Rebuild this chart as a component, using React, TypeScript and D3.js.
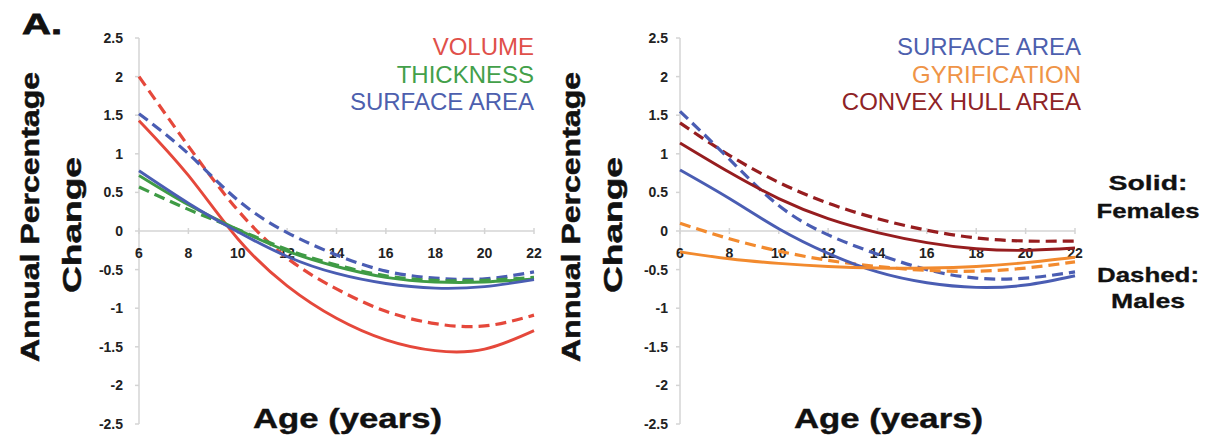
import React from "react";
import * as d3 from "d3";

// ---- data ----
const ages = [6, 8, 10, 12, 14, 16, 18, 20, 22];
const xTicks = [6, 8, 10, 12, 14, 16, 18, 20, 22];
const yTicks = [2.5, 2, 1.5, 1, 0.5, 0, -0.5, -1, -1.5, -2, -2.5];

// Left panel
const volumeF = [1.43, 0.72, -0.1, -0.71, -1.13, -1.41, -1.55, -1.53, -1.29];
const volumeM = [2.0, 1.1, 0.27, -0.35, -0.75, -1.04, -1.2, -1.23, -1.09];
const thickF = [0.72, 0.34, 0.02, -0.26, -0.46, -0.6, -0.66, -0.66, -0.62];
const thickM = [0.57, 0.28, 0.02, -0.24, -0.44, -0.58, -0.64, -0.64, -0.6];
const areaF = [0.78, 0.36, -0.01, -0.33, -0.55, -0.68, -0.74, -0.72, -0.63];
const areaM = [1.52, 1.0, 0.4, -0.02, -0.31, -0.52, -0.61, -0.62, -0.53];

// Right panel
const areaF2 = [0.79, 0.42, 0.03, -0.29, -0.53, -0.67, -0.73, -0.7, -0.58];
const areaM2 = [1.55, 0.93, 0.33, -0.05, -0.3, -0.5, -0.61, -0.61, -0.53];
const hullF = [1.14, 0.76, 0.42, 0.16, -0.02, -0.15, -0.23, -0.25, -0.22];
const hullM = [1.4, 0.98, 0.63, 0.36, 0.16, 0.01, -0.09, -0.13, -0.13];
const gyrF = [-0.27, -0.36, -0.42, -0.46, -0.48, -0.48, -0.46, -0.41, -0.34];
const gyrM = [0.1, -0.1, -0.26, -0.38, -0.46, -0.51, -0.52, -0.48, -0.4];

const leftLegend = ["VOLUME", "THICKNESS", "SURFACE AREA"];
const rightLegend = ["SURFACE AREA", "GYRIFICATION", "CONVEX HULL AREA"];

const C = {
  red: "#e5483b",
  green: "#3f9b45",
  blue: "#4a5db3",
  orange: "#f28a2e",
  dred: "#961d1f",
};
const LEG = {
  red: "#e0504a",
  green: "#43a04a",
  blue: "#4d5fae",
  orange: "#ef9447",
  dred: "#8e2326",
};

const FONT = "'Liberation Sans', Arial, Helvetica, sans-serif";

type Series = { values: number[]; color: string; dashed: boolean };

function Panel({
  x0,
  x1,
  labelRight,
  series,
  legend,
  legendColors,
  legendRight,
  titleOffset,
}: {
  x0: number;
  x1: number;
  labelRight: number;
  series: Series[];
  legend: string[];
  legendColors: string[];
  legendRight: number;
  titleOffset: number;
}) {
  const x = d3.scaleLinear().domain([6, 22]).range([x0, x1]);
  const y = d3.scaleLinear().domain([-2.5, 2.5]).range([424, 38]);
  const line = d3
    .line<number>()
    .x((_, i) => x(ages[i]))
    .y((d) => y(d))
    .curve(d3.curveNatural);
  const axisColor = "#d4d4d4";
  return (
    <g>
      {/* y axis */}
      <line x1={x0} x2={x0} y1={y(2.5)} y2={y(-2.5)} stroke={axisColor} strokeWidth={1.5} />
      {yTicks.map((t) => (
        <g key={"yt" + t}>
          <line x1={x0 - 4} x2={x0} y1={y(t)} y2={y(t)} stroke={axisColor} strokeWidth={1.5} />
          <text
            x={labelRight}
            y={y(t)}
            dy="0.36em"
            textAnchor="end"
            fontFamily={FONT}
            fontWeight="bold"
            fontSize={14}
            fill="#222"
          >
            {String(t)}
          </text>
        </g>
      ))}
      {/* x axis */}
      <line x1={x0} x2={x1} y1={y(0)} y2={y(0)} stroke={axisColor} strokeWidth={1.5} />
      {xTicks.map((t) => (
        <g key={"xt" + t}>
          <line x1={x(t)} x2={x(t)} y1={y(0) - 3} y2={y(0) + 3} stroke={axisColor} strokeWidth={1.5} />
          <text
            x={x(t)}
            y={258}
            textAnchor="middle"
            fontFamily={FONT}
            fontWeight="bold"
            fontSize={14}
            fill="#222"
          >
            {String(t)}
          </text>
        </g>
      ))}
      {/* series */}
      {series.map((s, i) => (
        <path
          key={"s" + i}
          d={line(s.values) || ""}
          fill="none"
          stroke={s.color}
          strokeWidth={s.dashed ? 3.2 : 2.9}
          strokeDasharray={s.dashed ? "11 6" : undefined}
          strokeLinecap="butt"
        />
      ))}
      {/* legend */}
      {legend.map((l, i) => (
        <text
          key={"lg" + i}
          x={legendRight}
          y={55 + i * 27.5}
          textAnchor="end"
          fontFamily={FONT}
          fontSize={24}
          fill={legendColors[i]}
        >
          {l}
        </text>
      ))}
      {/* axis titles */}
      <text
        transform={`translate(${39 + titleOffset},217) rotate(-90)`}
        textAnchor="middle"
        fontFamily={FONT}
        fontWeight="bold"
        fontSize={26}
        textLength={290}
        lengthAdjust="spacingAndGlyphs"
        fill="#111"
        stroke="#111"
        strokeWidth={0.5}
      >
        Annual Percentage
      </text>
      <text
        transform={`translate(${81 + titleOffset},225) rotate(-90)`}
        textAnchor="middle"
        fontFamily={FONT}
        fontWeight="bold"
        fontSize={26}
        textLength={136}
        lengthAdjust="spacingAndGlyphs"
        fill="#111"
        stroke="#111"
        strokeWidth={0.5}
      >
        Change
      </text>
      <text
        x={253 + (x0 - 139)}
        y={428}
        fontFamily={FONT}
        fontWeight="bold"
        fontSize={28}
        textLength={189}
        lengthAdjust="spacingAndGlyphs"
        fill="#111"
        stroke="#111"
        strokeWidth={0.4}
      >
        Age (years)
      </text>
    </g>
  );
}

export default function App() {
  const leftSeries: Series[] = [
    { values: volumeM, color: C.red, dashed: true },
    { values: areaM, color: C.blue, dashed: true },
    { values: thickM, color: C.green, dashed: true },
    { values: volumeF, color: C.red, dashed: false },
    { values: thickF, color: C.green, dashed: false },
    { values: areaF, color: C.blue, dashed: false },
  ];
  const rightSeries: Series[] = [
    { values: hullM, color: C.dred, dashed: true },
    { values: areaM2, color: C.blue, dashed: true },
    { values: gyrM, color: C.orange, dashed: true },
    { values: hullF, color: C.dred, dashed: false },
    { values: areaF2, color: C.blue, dashed: false },
    { values: gyrF, color: C.orange, dashed: false },
  ];
  return (
    <svg
      width={1209}
      height={439}
      style={{ position: "absolute", left: 0, top: 0, background: "#fff" }}
    >
      <rect x={0} y={0} width={1209} height={439} fill="#fff" />
      <text
        x={22}
        y={34}
        fontFamily={FONT}
        fontWeight="bold"
        fontSize={30}
        textLength={40}
        lengthAdjust="spacingAndGlyphs"
        fill="#111"
        stroke="#111"
        strokeWidth={0.8}
      >
        A.
      </text>
      <Panel
        x0={139}
        x1={534}
        labelRight={123}
        series={leftSeries}
        legend={leftLegend}
        legendColors={[LEG.red, LEG.green, LEG.blue]}
        legendRight={534}
        titleOffset={0}
      />
      <Panel
        x0={680}
        x1={1075}
        labelRight={668}
        series={rightSeries}
        legend={rightLegend}
        legendColors={[LEG.blue, LEG.orange, LEG.dred]}
        legendRight={1081}
        titleOffset={541}
      />
      {[
        { t: "Solid:", y: 190, w: 79 },
        { t: "Females", y: 218, w: 103 },
        { t: "Dashed:", y: 282, w: 102 },
        { t: "Males", y: 308, w: 74 },
      ].map((d) => (
        <text
          key={d.t}
          x={1148}
          y={d.y}
          textAnchor="middle"
          fontFamily={FONT}
          fontWeight="bold"
          fontSize={21}
          textLength={d.w}
          lengthAdjust="spacingAndGlyphs"
          fill="#111"
          stroke="#111"
          strokeWidth={0.3}
        >
          {d.t}
        </text>
      ))}
    </svg>
  );
}
